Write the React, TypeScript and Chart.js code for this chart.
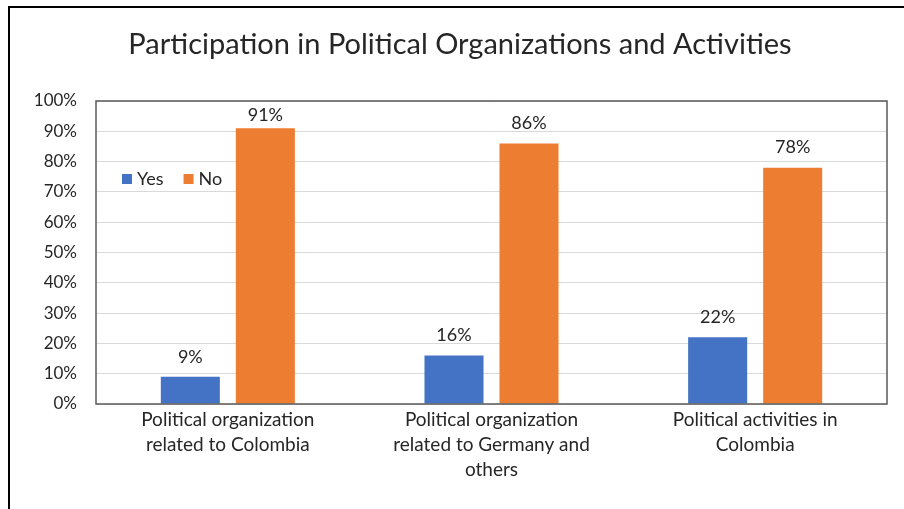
import React, { useEffect, useRef } from "react";
import { Chart, registerables } from "chart.js";

Chart.register(...registerables);

const categories: string[][] = [
  ["Political organization", "related to Colombia"],
  ["Political organization", "related to Germany and", "others"],
  ["Political activities in", "Colombia"],
];
const yesValues = [9, 16, 22];
const noValues = [91, 86, 78];
const seriesNames = ["Yes", "No"];
const titleText = "Participation in Political Organizations and Activities";

const FONT = "Lato, 'Open Sans', sans-serif";
const TEXT = "#262626";

const framePlugin = {
  id: "framePlugin",
  beforeDraw(chart: any) {
    const { ctx } = chart;
    ctx.save();
    ctx.fillStyle = "#ffffff";
    ctx.fillRect(0, 0, chart.width, chart.height);
    ctx.strokeStyle = "#000000";
    ctx.lineWidth = 2;
    ctx.beginPath();
    ctx.moveTo(9, chart.height);
    ctx.lineTo(9, 7);
    ctx.lineTo(chart.width, 7);
    ctx.stroke();
    // title
    ctx.fillStyle = TEXT;
    ctx.font = `29px ${FONT}`;
    ctx.textAlign = "center";
    ctx.textBaseline = "middle";
    ctx.fillText(titleText, 460, 45);
    ctx.restore();
  },
  afterDatasetsDraw(chart: any) {
    const { ctx, chartArea } = chart;
    ctx.save();
    ctx.strokeStyle = "#595959";
    ctx.lineWidth = 1.5;
    ctx.strokeRect(chartArea.left, chartArea.top, chartArea.right - chartArea.left, chartArea.bottom - chartArea.top);
    // data labels
    ctx.fillStyle = TEXT;
    ctx.font = `18px ${FONT}`;
    ctx.textAlign = "center";
    ctx.textBaseline = "middle";
    chart.data.datasets.forEach((ds: any, di: number) => {
      const meta = chart.getDatasetMeta(di);
      meta.data.forEach((el: any, i: number) => {
        const y = Math.max(el.y - 20, chartArea.top + 14);
        ctx.fillText(ds.data[i] + "%", el.x, y);
      });
    });
    // legend
    ctx.font = `18px ${FONT}`;
    ctx.textAlign = "left";
    let x = 122;
    const ly = 179;
    chart.data.datasets.forEach((ds: any) => {
      ctx.fillStyle = ds.backgroundColor;
      ctx.fillRect(x, ly - 5, 10, 10);
      ctx.fillStyle = TEXT;
      ctx.fillText(ds.label, x + 15, ly);
      x += 15 + ctx.measureText(ds.label).width + 20;
    });
    ctx.restore();
  },
};

export default function App() {
  const ref = useRef<HTMLCanvasElement>(null);
  useEffect(() => {
    if (!ref.current) return;
    const chart = new Chart(ref.current, {
      type: "bar",
      data: {
        labels: categories,
        datasets: [
          { label: seriesNames[0], data: yesValues, backgroundColor: "#4472C4" },
          { label: seriesNames[1], data: noValues, backgroundColor: "#ED7D31" },
        ],
      },
      options: {
        responsive: true,
        maintainAspectRatio: false,
        animation: false,
        layout: { padding: { left: 0, top: 101, right: 17, bottom: 0 } },
        plugins: { legend: { display: false }, title: { display: false }, tooltip: { enabled: false } },
        datasets: { bar: { categoryPercentage: 0.569, barPercentage: 0.787 } },
        scales: {
          x: {
            grid: { display: false, drawTicks: false },
            border: { display: false },
            ticks: { color: TEXT, font: { family: FONT, size: 19, lineHeight: 1.3 }, padding: 4, maxRotation: 0, autoSkip: false },
            afterFit(scale: any) { scale.height = 105; },
          },
          y: {
            min: 0,
            max: 100,
            grid: { color: "#D9D9D9", drawTicks: false, lineWidth: 1 },
            border: { display: false },
            ticks: { stepSize: 10, color: TEXT, font: { family: FONT, size: 17 }, padding: 19, callback: (v: any) => v + "%" },
            afterFit(scale: any) { scale.width = 96; },
          },
        },
      },
      plugins: [framePlugin],
    });
    return () => chart.destroy();
  }, []);
  return (
    <div style={{ position: "fixed", left: 0, top: 0, width: 904, height: 509 }}>
      <canvas ref={ref} />
    </div>
  );
}
